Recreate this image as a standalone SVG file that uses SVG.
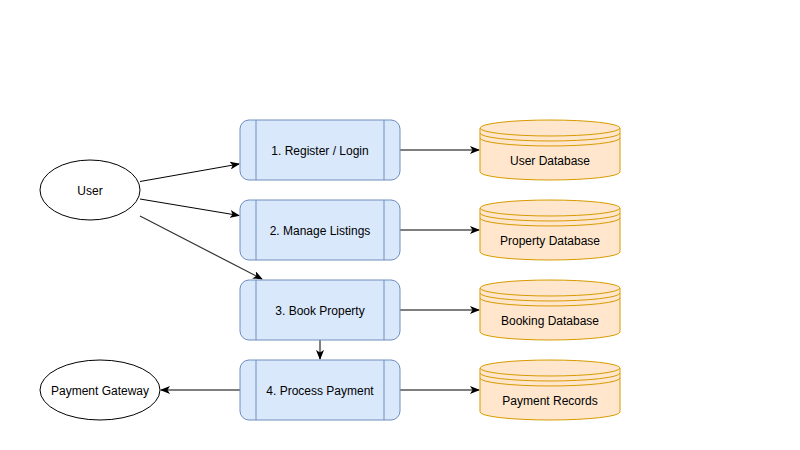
<svg xmlns="http://www.w3.org/2000/svg" width="800" height="450" viewBox="0 0 800 450">
<defs>
<marker id="arr" viewBox="0 0 10 8" refX="9" refY="4" markerWidth="10" markerHeight="8" markerUnits="userSpaceOnUse" orient="auto">
<path d="M0,0 L10,4 L0,8 L2.5,4 Z" fill="#000"/>
</marker>
</defs>
<style>
text{font-family:"Liberation Sans",Arial,sans-serif;font-size:12px;fill:#000;text-anchor:middle;dominant-baseline:central}
.proc{fill:#dae8fc;stroke:#6c8ebf;stroke-width:1}
.pl{fill:none;stroke:#6c8ebf;stroke-width:1}
.db{fill:#ffe6cc;stroke:#d79b00;stroke-width:1}
.dl{fill:none;stroke:#d79b00;stroke-width:1}
.ent{fill:#fff;stroke:#000;stroke-width:1}
.edge{fill:none;stroke:#000;stroke-width:1;marker-end:url(#arr)}
</style>
<rect width="800" height="450" fill="#fff"/>
<g id="connectors">
<path class="edge" d="M140,181.5 L239,164"/>
<path class="edge" d="M140,199 L239,215.5"/>
<path class="edge" style="stroke:#333;stroke-width:1.2" d="M140,216 L262,279"/>
<path class="edge" d="M400,150 L479,150"/>
<path class="edge" d="M400,230 L479,230"/>
<path class="edge" d="M400,310 L479,310"/>
<path class="edge" d="M400,390 L479,390"/>
<path class="edge" d="M320,340 L320,359"/>
<path class="edge" d="M240,390 L161,390"/>
</g>
<g id="user">
<ellipse class="ent" cx="90" cy="190" rx="50" ry="30"/>
<text x="90" y="190.5">User</text>
</g>
<g id="gateway">
<ellipse class="ent" cx="100" cy="390" rx="60" ry="30"/>
<text x="100" y="390.5">Payment Gateway</text>
</g>
<g id="p1">
<rect class="proc" x="240" y="120" width="160" height="60" rx="9"/>
<path class="pl" d="M256,120 V180 M384,120 V180"/>
<text x="320" y="150.5">1. Register / Login</text>
</g>
<g id="p2">
<rect class="proc" x="240" y="200" width="160" height="60" rx="9"/>
<path class="pl" d="M256,200 V260 M384,200 V260"/>
<text x="320" y="230.5">2. Manage Listings</text>
</g>
<g id="p3">
<rect class="proc" x="240" y="280" width="160" height="60" rx="9"/>
<path class="pl" d="M256,280 V340 M384,280 V340"/>
<text x="320" y="310.5">3. Book Property</text>
</g>
<g id="p4">
<rect class="proc" x="240" y="360" width="160" height="60" rx="9"/>
<path class="pl" d="M256,360 V420 M384,360 V420"/>
<text x="320" y="390.5">4. Process Payment</text>
</g>
<g id="db1">
<path class="db" d="M480,128 A70,8 0 0 1 620,128 V172 A70,8 0 0 1 480,172 Z"/>
<path class="dl" d="M480,128 A70,8 0 0 0 620,128 M480,133 A70,8 0 0 0 620,133 M480,138 A70,8 0 0 0 620,138"/>
<text x="550" y="160.5">User Database</text>
</g>
<g id="db2">
<path class="db" d="M480,208 A70,8 0 0 1 620,208 V252 A70,8 0 0 1 480,252 Z"/>
<path class="dl" d="M480,208 A70,8 0 0 0 620,208 M480,213 A70,8 0 0 0 620,213 M480,218 A70,8 0 0 0 620,218"/>
<text x="550" y="240.5">Property Database</text>
</g>
<g id="db3">
<path class="db" d="M480,288 A70,8 0 0 1 620,288 V332 A70,8 0 0 1 480,332 Z"/>
<path class="dl" d="M480,288 A70,8 0 0 0 620,288 M480,293 A70,8 0 0 0 620,293 M480,298 A70,8 0 0 0 620,298"/>
<text x="550" y="320.5">Booking Database</text>
</g>
<g id="db4">
<path class="db" d="M480,368 A70,8 0 0 1 620,368 V412 A70,8 0 0 1 480,412 Z"/>
<path class="dl" d="M480,368 A70,8 0 0 0 620,368 M480,373 A70,8 0 0 0 620,373 M480,378 A70,8 0 0 0 620,378"/>
<text x="550" y="400.5">Payment Records</text>
</g>
</svg>
